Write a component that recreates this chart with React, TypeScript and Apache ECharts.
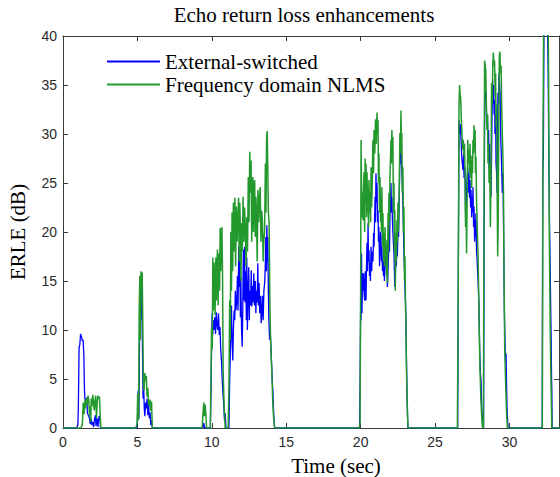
import React, { useEffect, useRef } from "react";
import * as echarts from "echarts";

const titleText = "Echo return loss enhancements";
const xName = "Time (sec)";
const yName = "ERLE (dB)";
const seriesNames = ["External-switched", "Frequency domain NLMS"];

const xMin = 0;
const xMax = 33.33;
const xStep = 5;
const yMin = 0;
const yMax = 40;
const yStep = 5;

// [time (s), ERLE (dB)]
const blueData: [number, number][] = [
  [0, 0], [0.9, 0], [1.0, 0.3], [1.03, 2], [1.08, 8.2], [1.13, 8.5], [1.18, 9.6], [1.24, 9.3], [1.3, 8.9], [1.35, 9.0],
  [1.4, 7.5], [1.44, 4], [1.47, 3], [1.55, 2.8], [1.6, 3.1], [1.64, 1.5], [1.7, 1.3], [1.78, 1.0], [1.83, 0.4], [1.9, 0.9],
  [1.95, 0.3], [2.0, 0.6], [2.06, 0.1], [2.12, 0.9], [2.18, 1.3], [2.22, 0.2], [2.3, 1.0], [2.35, 0.1], [2.42, 1.2], [2.48, 1.1], [2.52, 0],
  [4.95, 0], [5.0, 0.5], [5.05, 3.8], [5.1, 1], [5.14, 9], [5.18, 14.8], [5.22, 11], [5.26, 15.2], [5.3, 13], [5.34, 8],
  [5.38, 3], [5.42, 4.3], [5.46, 2.0], [5.5, 1.2], [5.55, 2.6], [5.6, 2.0], [5.65, 3.0], [5.7, 1.3], [5.75, 2.7], [5.8, 1.0],
  [5.85, 1.6], [5.9, 0.3], [5.95, 0.8], [6.0, 0],
  [9.4, 0], [9.46, 0.5], [9.52, 0], [9.9, 0], [9.95, 4], [9.98, 7.5], [10.02, 11.7], [10.06, 9.5], [10.1, 11], [10.15, 10],
  [10.2, 11.3], [10.25, 9.6], [10.3, 11.8], [10.35, 10.5], [10.4, 10], [10.45, 11.7], [10.5, 9.5], [10.55, 10.3], [10.6, 8],
  [10.65, 6.9], [10.7, 4.9], [10.75, 3.5], [10.8, 2.5], [10.85, 0.8], [10.9, 1.5], [10.95, 0],
  [11.15, 0], [11.2, 5], [11.24, 7.2], [11.28, 10], [11.32, 12.5], [11.36, 9], [11.41, 6.9], [11.45, 10], [11.5, 12], [11.54, 11],
  [11.58, 14], [11.62, 12], [11.68, 13], [11.72, 15.5], [11.76, 12], [11.81, 18.5], [11.85, 14.4], [11.88, 17.4], [11.92, 11.3],
  [11.95, 15.4], [12.0, 10], [12.04, 8.3], [12.08, 12], [12.12, 18.2], [12.16, 13], [12.2, 18.5], [12.24, 12.8], [12.28, 16],
  [12.32, 11], [12.35, 17.4], [12.39, 10], [12.44, 14], [12.48, 16.4], [12.52, 11], [12.55, 14], [12.6, 12.5], [12.65, 16.1],
  [12.69, 12.4], [12.74, 14.5], [12.78, 12.8], [12.82, 15.8], [12.87, 12.5], [12.92, 15], [12.96, 11.7], [13.0, 14], [13.05, 12.8],
  [13.09, 16.8], [13.13, 12.5], [13.18, 14.8], [13.22, 11.7], [13.27, 13.5], [13.32, 10.7], [13.36, 12], [13.4, 13.5], [13.45, 11],
  [13.5, 14], [13.56, 15], [13.6, 17], [13.63, 19.5], [13.67, 16], [13.7, 20.7], [13.74, 17], [13.76, 19.5], [13.8, 14], [13.83, 11.3],
  [13.88, 9], [13.92, 10], [13.97, 8.3], [14.0, 7], [14.03, 6.2], [14.07, 4.5], [14.1, 3.9], [14.14, 2], [14.17, 1.1], [14.22, 0],
  [19.93, 0], [19.97, 6], [20.0, 12.3], [20.03, 11], [20.06, 17.8], [20.09, 11.7], [20.13, 15.8], [20.16, 14], [20.2, 15.8],
  [20.24, 13.5], [20.28, 13], [20.31, 16], [20.36, 13], [20.4, 17], [20.43, 18.9], [20.46, 16], [20.5, 20.9], [20.53, 17],
  [20.56, 18.2], [20.6, 15.5], [20.63, 16.8], [20.66, 15], [20.7, 18.5], [20.74, 16], [20.77, 17.1], [20.8, 18], [20.83, 17],
  [20.87, 19.9], [20.9, 18.5], [20.97, 23.6], [21.0, 21], [21.03, 26], [21.07, 23], [21.1, 25], [21.14, 21], [21.17, 22.2],
  [21.2, 19], [21.23, 20.5], [21.27, 16.5], [21.3, 17.8], [21.34, 20], [21.37, 19.5], [21.4, 17], [21.43, 18.5], [21.47, 16],
  [21.5, 17], [21.54, 15.5], [21.57, 17.4], [21.6, 15], [21.64, 17], [21.7, 18.9], [21.74, 16], [21.77, 17], [21.8, 14.4],
  [21.84, 16], [21.87, 17.4], [21.9, 19], [21.94, 18], [21.97, 21.5], [22.0, 23], [22.04, 25], [22.07, 22], [22.1, 23.6],
  [22.14, 21], [22.17, 19.9], [22.2, 19], [22.24, 17.8], [22.27, 16], [22.3, 14.4], [22.34, 16], [22.37, 17.8], [22.4, 16.5],
  [22.44, 19.2], [22.47, 17.5], [22.51, 20.5], [22.55, 19.5], [22.6, 24], [22.64, 28], [22.67, 27], [22.71, 29.4], [22.74, 27],
  [22.77, 26.3], [22.8, 25], [22.84, 23], [22.88, 20], [22.91, 17.8], [22.95, 16], [22.98, 14.4], [23.02, 12.5], [23.04, 11.3],
  [23.08, 7], [23.11, 3.9], [23.15, 1.2], [23.18, 0],
  [26.52, 0], [26.57, 18], [26.61, 31.4], [26.66, 30], [26.7, 31], [26.74, 29.7], [26.8, 27.5], [26.88, 26.3], [26.92, 28],
  [26.95, 25.5], [27.01, 26.6], [27.05, 22], [27.08, 21.2], [27.11, 24], [27.15, 25.3], [27.2, 26.5], [27.25, 24], [27.28, 26],
  [27.32, 23.5], [27.35, 25.3], [27.39, 22.5], [27.42, 24.3], [27.46, 21.5], [27.48, 23.6], [27.52, 22], [27.55, 24.6],
  [27.59, 20.5], [27.62, 22.6], [27.66, 19], [27.69, 21.2], [27.72, 19.5], [27.75, 21.9], [27.79, 18], [27.82, 17.4],
  [27.86, 16], [27.89, 15.1], [27.93, 13.5], [27.95, 12.5], [28.0, 8], [28.05, 5.6], [28.09, 4.9], [28.14, 2], [28.18, 1.1], [28.2, 0],
  [28.26, 0], [28.3, 20], [28.34, 34.5], [28.38, 33.5], [28.43, 34.3], [28.47, 31], [28.52, 32], [28.56, 29], [28.6, 30.4],
  [28.63, 26.5], [28.67, 29], [28.7, 25.3], [28.73, 26.6], [28.76, 23.6], [28.8, 28], [28.83, 32], [28.87, 35.5], [28.9, 33],
  [28.94, 35], [28.97, 32], [29.0, 33.5], [29.03, 30], [29.07, 32], [29.1, 27], [29.14, 26], [29.17, 24], [29.2, 31], [29.23, 34.2],
  [29.27, 33], [29.3, 36.2], [29.34, 35], [29.37, 34], [29.41, 30], [29.44, 28.5], [29.48, 26.3], [29.52, 24], [29.57, 26],
  [29.62, 18], [29.66, 12], [29.7, 8.7], [29.74, 6.7], [29.77, 7.6], [29.81, 4], [29.84, 2], [29.88, 0.6], [29.91, 0],
  [32.2, 0], [32.24, 26], [32.28, 28], [32.32, 41], [32.45, 43], [32.55, 41], [32.6, 36.8], [32.65, 26.6], [32.7, 19.9],
  [32.74, 16.1], [32.78, 11.3], [32.8, 9.3], [32.83, 5.2], [32.85, 3.6], [32.87, 0], [33.4, 0],
];

const greenData: [number, number][] = [
  [0, 0], [1.2, 0], [1.3, 0.3], [1.36, 2.6], [1.42, 1.4], [1.48, 2.9], [1.53, 2.0], [1.58, 3.0], [1.63, 2.4], [1.68, 3.3],
  [1.73, 2.9], [1.78, 1.2], [1.82, 2.2], [1.86, 0.6], [1.9, 3.0], [1.95, 2.2], [2.0, 3.4], [2.05, 2.6], [2.1, 1.8], [2.15, 2.8],
  [2.2, 3.3], [2.25, 1.0], [2.3, 2.6], [2.35, 3.3], [2.4, 3.0], [2.45, 3.2], [2.5, 1.2], [2.55, 0],
  [4.9, 0], [4.98, 0.5], [5.02, 3.5], [5.08, 0.8], [5.12, 12], [5.16, 15.5], [5.2, 9], [5.24, 16], [5.28, 14.5], [5.32, 15.9],
  [5.36, 11], [5.4, 4.5], [5.45, 3.8], [5.5, 5.6], [5.55, 4.8], [5.6, 5.3], [5.65, 3.2], [5.7, 4.1], [5.75, 2.5], [5.8, 2.2],
  [5.85, 2.9], [5.9, 1.8], [5.95, 2.7], [6.0, 0],
  [9.35, 0], [9.42, 1.8], [9.46, 2.6], [9.5, 1.2], [9.55, 2.4], [9.6, 1.4], [9.65, 0], [9.9, 0], [9.95, 6], [9.98, 10.2],
  [10.03, 8], [10.07, 17.4], [10.1, 12], [10.14, 16.9], [10.18, 15.9], [10.22, 11.5], [10.27, 17.4], [10.3, 13], [10.34, 16.5],
  [10.38, 18.2], [10.42, 12.5], [10.47, 17.8], [10.52, 14], [10.56, 20.4], [10.6, 16], [10.64, 19.2], [10.68, 20.5], [10.72, 15.8],
  [10.76, 6], [10.8, 3.6], [10.85, 1.5], [10.9, 0],
  [11.1, 0], [11.15, 4], [11.2, 13], [11.24, 9], [11.28, 20], [11.32, 14], [11.36, 22], [11.4, 16], [11.45, 23], [11.5, 18],
  [11.55, 23.5], [11.6, 16.5], [11.65, 22.6], [11.7, 19], [11.75, 21.4], [11.8, 23.5], [11.84, 17], [11.88, 23], [11.92, 20.2],
  [11.96, 15], [12.0, 20.9], [12.05, 18], [12.1, 23.6], [12.15, 19], [12.2, 22.5], [12.25, 20.5], [12.3, 16.5], [12.35, 21.5],
  [12.4, 18], [12.45, 25.6], [12.5, 21], [12.55, 28.2], [12.6, 24], [12.64, 27.3], [12.68, 19], [12.72, 24], [12.76, 25.6],
  [12.8, 20], [12.84, 24.3], [12.88, 25.3], [12.92, 19.5], [12.96, 23.6], [13.0, 22], [13.05, 17], [13.1, 24.3], [13.15, 21],
  [13.2, 23.3], [13.25, 24.6], [13.3, 19], [13.35, 22.2], [13.4, 21.2], [13.45, 17], [13.5, 19.2], [13.55, 20.2], [13.6, 27],
  [13.64, 22], [13.68, 29.4], [13.72, 30.3], [13.76, 26.6], [13.8, 22], [13.85, 20.9], [13.9, 13], [13.95, 9], [14.0, 7],
  [14.05, 4.9], [14.1, 2.5], [14.15, 1.1], [14.22, 0],
  [19.9, 0], [19.96, 0.5], [20.0, 14], [20.03, 29.4], [20.06, 25], [20.09, 21.5], [20.13, 24], [20.16, 21.2], [20.2, 24.5],
  [20.23, 26.1], [20.27, 20], [20.3, 27.5], [20.33, 23], [20.36, 27], [20.4, 21.5], [20.43, 26.1], [20.47, 22], [20.5, 24.6],
  [20.53, 20.5], [20.56, 25.3], [20.6, 22], [20.63, 24.1], [20.67, 21], [20.7, 26.6], [20.73, 22.5], [20.77, 24], [20.8, 27],
  [20.83, 29.4], [20.87, 26], [20.9, 30.4], [20.95, 28], [21.0, 31.5], [21.05, 29], [21.1, 32.2], [21.14, 30], [21.17, 31.4],
  [21.2, 25], [21.23, 28], [21.27, 22], [21.3, 25.6], [21.34, 21], [21.37, 23.3], [21.4, 20], [21.43, 24.6], [21.47, 18.5],
  [21.5, 21.9], [21.54, 17], [21.57, 19.9], [21.6, 16.5], [21.64, 20.5], [21.67, 17.5], [21.7, 19.2], [21.74, 15.5], [21.77, 18],
  [21.8, 14.8], [21.84, 21.9], [21.87, 18], [21.9, 24], [21.94, 21], [21.97, 25.6], [22.0, 27], [22.04, 29.4], [22.07, 27],
  [22.1, 30.4], [22.14, 28], [22.17, 29.7], [22.2, 22], [22.24, 25], [22.27, 18], [22.3, 22.2], [22.33, 14], [22.37, 19.9],
  [22.4, 17], [22.44, 21.2], [22.47, 19], [22.51, 23], [22.54, 20], [22.57, 22.2], [22.6, 25], [22.64, 30.1], [22.67, 28],
  [22.71, 32.4], [22.74, 29], [22.77, 30.1], [22.8, 24], [22.84, 26.6], [22.88, 20], [22.91, 22.6], [22.95, 15], [22.98, 17.5],
  [23.02, 12], [23.04, 11.3], [23.08, 6], [23.11, 3.9], [23.15, 1.5], [23.18, 0],
  [26.5, 0], [26.56, 14], [26.61, 33], [26.65, 35], [26.68, 34.2], [26.72, 33.7], [26.76, 31.7], [26.81, 30], [26.85, 28.4],
  [26.9, 29.4], [26.95, 27.7], [26.98, 29], [27.01, 26.6], [27.05, 20.5], [27.08, 23], [27.12, 17.8], [27.16, 24], [27.2, 29.4],
  [27.24, 27], [27.28, 28.4], [27.32, 26], [27.35, 29], [27.39, 25.5], [27.42, 27.8], [27.46, 24.5], [27.48, 27.3], [27.52, 26],
  [27.55, 29.4], [27.59, 28], [27.62, 30.9], [27.66, 28.5], [27.69, 30.4], [27.72, 26], [27.75, 27.7], [27.79, 23], [27.82, 21.5],
  [27.86, 19], [27.89, 17.8], [27.93, 14], [27.97, 10], [28.02, 6], [28.08, 3], [28.14, 1], [28.2, 0],
  [28.25, 0], [28.29, 22], [28.33, 37.5], [28.37, 37], [28.41, 36.5], [28.45, 33], [28.49, 30.4], [28.53, 32], [28.56, 27],
  [28.6, 29], [28.63, 25], [28.67, 27], [28.72, 20.5], [28.76, 26], [28.8, 35.2], [28.84, 33], [28.88, 37], [28.92, 38.3],
  [28.96, 37], [29.0, 37.5], [29.04, 34], [29.07, 36.2], [29.1, 30.7], [29.14, 33], [29.17, 25.3], [29.21, 17.5], [29.24, 20.5],
  [29.28, 30], [29.32, 38], [29.36, 38.4], [29.4, 36.2], [29.44, 37], [29.48, 32.8], [29.52, 30], [29.55, 28.4], [29.6, 24],
  [29.63, 16.8], [29.68, 8.3], [29.74, 4.9], [29.8, 1.8], [29.86, 0],
  [32.15, 0], [32.21, 0], [32.25, 28], [32.3, 42], [32.4, 44], [32.5, 44], [32.6, 42], [32.63, 36], [32.68, 20], [32.74, 10],
  [32.8, 4], [32.85, 0], [33.4, 0],
];

const blueColor = "#0000ff";
const greenColor = "#23992d";

export default function App() {
  const ref = useRef<HTMLDivElement>(null);

  useEffect(() => {
    if (!ref.current) return;
    const chart = echarts.init(ref.current, null, { renderer: "svg" });
    const axisColor = "#3a3a3a";
    const labelFont = { color: "#2a2a2a", fontSize: 14, fontFamily: "'Liberation Sans', Arial, sans-serif" };
    const serif = "'Liberation Serif', 'Times New Roman', serif";

    const xCommon = {
      type: "value" as const,
      min: xMin,
      max: xMax,
      interval: xStep,
      splitLine: { show: false },
      axisLine: { show: true, onZero: false, lineStyle: { color: axisColor, width: 1 } },
      axisTick: { show: true, inside: true, length: 5, lineStyle: { color: axisColor } },
    };
    const yCommon = {
      type: "value" as const,
      min: yMin,
      max: yMax,
      interval: yStep,
      splitLine: { show: false },
      axisLine: { show: true, onZero: false, lineStyle: { color: axisColor, width: 1 } },
      axisTick: { show: true, inside: true, length: 5, lineStyle: { color: axisColor } },
    };

    chart.setOption({
      animation: false,
      backgroundColor: "#ffffff",
      grid: { left: 63, top: 36, right: 1, bottom: 49, containLabel: false },
      xAxis: [
        { ...xCommon, position: "bottom", axisLabel: { ...labelFont, margin: 7, showMaxLabel: false } },
        { ...xCommon, position: "top", axisLabel: { show: false } },
      ],
      yAxis: [
        { ...yCommon, position: "left", axisLabel: { ...labelFont, margin: 6 } },
        { ...yCommon, position: "right", axisLabel: { show: false } },
      ],
      legend: {
        orient: "vertical",
        left: 102,
        top: 46,
        padding: 5,
        icon: "rect",
        itemWidth: 53,
        itemHeight: 2,
        itemGap: 2,
        selectedMode: false,
        textStyle: { fontFamily: serif, fontSize: 21, color: "#000", lineHeight: 21 },
        data: seriesNames,
      },
      graphic: [
        {
          type: "text",
          x: 304,
          y: 15,
          style: { text: titleText, font: `21px ${serif}`, fill: "#000", textAlign: "center", textVerticalAlign: "middle" },
        },
        {
          type: "text",
          x: 336,
          y: 466,
          style: { text: xName, font: `21px ${serif}`, fill: "#000", textAlign: "center", textVerticalAlign: "middle" },
        },
        {
          type: "text",
          x: 18,
          y: 232,
          rotation: Math.PI / 2,
          style: { text: yName, font: `21px ${serif}`, fill: "#000", textAlign: "center", textVerticalAlign: "middle" },
        },
      ],
      series: [
        {
          name: seriesNames[0],
          type: "line",
          xAxisIndex: 0,
          yAxisIndex: 0,
          data: blueData,
          symbol: "none",
          clip: true,
          silent: true,
          color: blueColor,
          lineStyle: { color: blueColor, width: 1.3 },
        },
        {
          name: seriesNames[1],
          type: "line",
          xAxisIndex: 0,
          yAxisIndex: 0,
          data: greenData,
          symbol: "none",
          clip: true,
          silent: true,
          color: greenColor,
          lineStyle: { color: greenColor, width: 1.5 },
        },
      ],
    });
    return () => chart.dispose();
  }, []);

  return (
    <div
      ref={ref}
      style={{ position: "absolute", left: 0, top: 0, width: 560, height: 477, background: "#fff" }}
    />
  );
}
